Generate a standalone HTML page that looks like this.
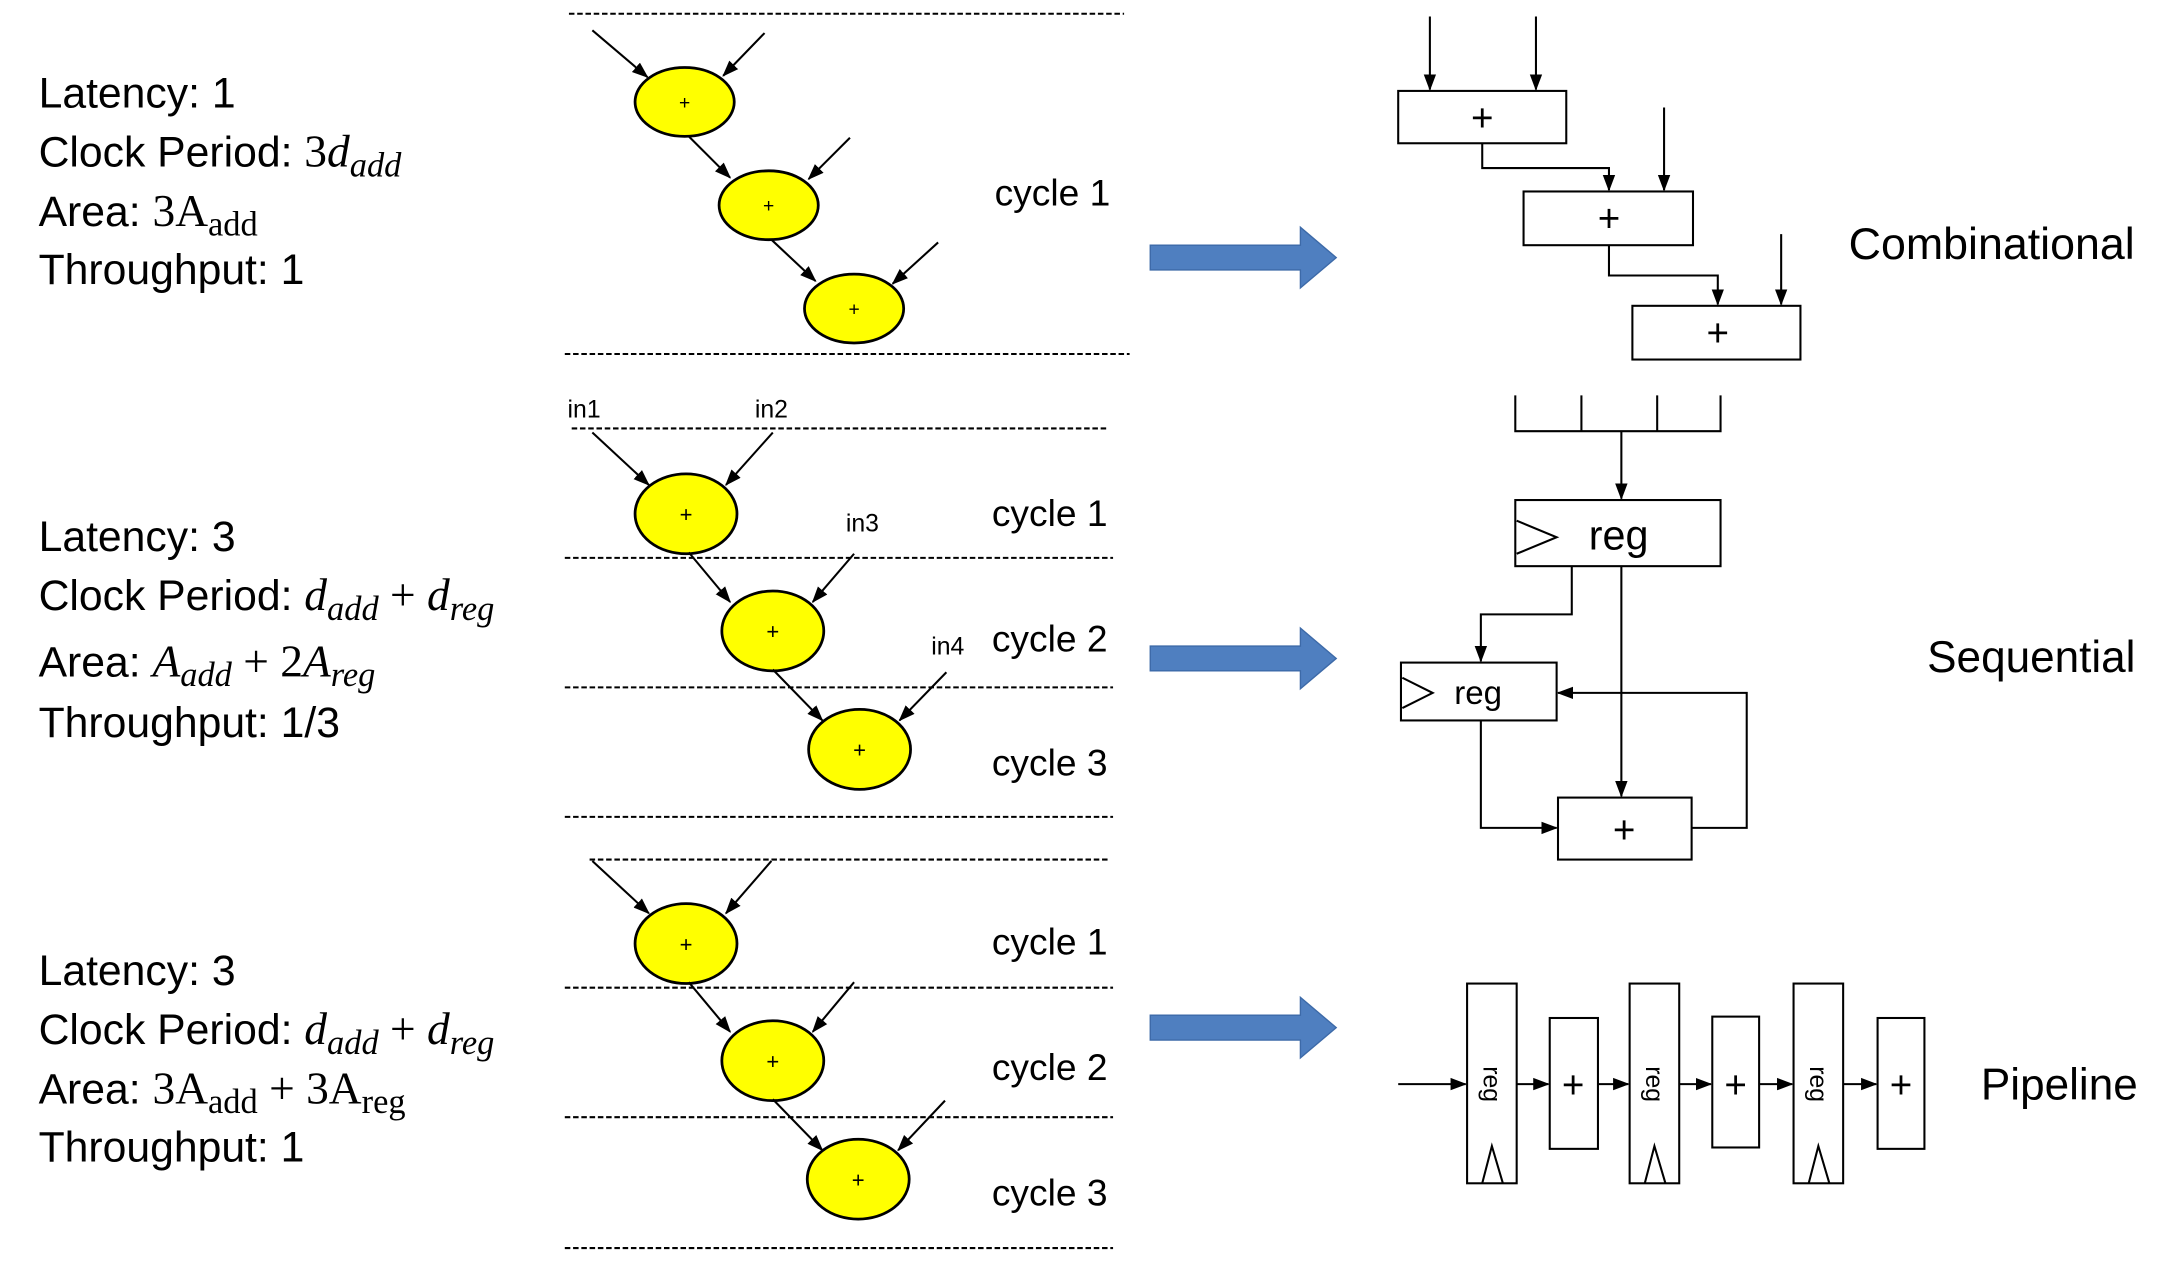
<!DOCTYPE html>
<html><head><meta charset="utf-8"><style>html,body{margin:0;padding:0;background:#fff}svg{display:block}</style></head>
<body>
<svg width="2160" height="1276" viewBox="0 0 1568 926.3" xmlns="http://www.w3.org/2000/svg">
<defs>
<marker id="a" markerWidth="12" markerHeight="12" refX="11" refY="6" orient="auto" markerUnits="userSpaceOnUse"><path d="M0,1.5 L12,6 L0,10.5 z" fill="#000"/></marker>
</defs>
<g font-family="Liberation Sans, sans-serif" fill="#000">
<!-- left text -->
<g font-size="31">
<text x="28" y="78">Latency: 1</text>
<text x="28" y="121">Clock Period: <tspan font-family="Liberation Serif" font-size="33">3<tspan font-style="italic">d</tspan><tspan font-style="italic" font-size="25" dy="7">add</tspan></tspan></text>
<text x="28" y="164">Area: <tspan font-family="Liberation Serif" font-size="33">3A<tspan font-size="25" dy="7">add</tspan></tspan></text>
<text x="28" y="206">Throughput: 1</text>

<text x="28" y="400">Latency: 3</text>
<text x="28" y="443">Clock Period: <tspan font-family="Liberation Serif" font-style="italic" font-size="33">d<tspan font-size="25" dy="7">add</tspan><tspan dy="-7" font-style="normal"> + </tspan>d<tspan font-size="25" dy="7">reg</tspan></tspan></text>
<text x="28" y="491">Area: <tspan font-family="Liberation Serif" font-style="italic" font-size="33">A<tspan font-size="25" dy="7">add</tspan><tspan dy="-7" font-style="normal"> + 2</tspan>A<tspan font-size="25" dy="7">reg</tspan></tspan></text>
<text x="28" y="535">Throughput: 1/3</text>

<text x="28" y="715">Latency: 3</text>
<text x="28" y="758">Clock Period: <tspan font-family="Liberation Serif" font-style="italic" font-size="33">d<tspan font-size="25" dy="7">add</tspan><tspan dy="-7" font-style="normal"> + </tspan>d<tspan font-size="25" dy="7">reg</tspan></tspan></text>
<text x="28" y="801">Area: <tspan font-family="Liberation Serif" font-size="33">3A<tspan font-size="25" dy="7">add</tspan><tspan dy="-7"> + 3A</tspan><tspan font-size="25" dy="7">reg</tspan></tspan></text>
<text x="28" y="843">Throughput: 1</text>
</g>

<!-- dashed lines -->
<g stroke="#000" stroke-width="1.5" stroke-dasharray="4,2">
<line x1="413" y1="10" x2="816" y2="10"/><line x1="410" y1="257" x2="820" y2="257"/>
<line x1="415" y1="311" x2="805" y2="311"/><line x1="410" y1="405" x2="808" y2="405"/>
<line x1="410" y1="499" x2="808" y2="499"/><line x1="410" y1="593" x2="808" y2="593"/>
<line x1="428" y1="624" x2="805" y2="624"/><line x1="410" y1="717" x2="808" y2="717"/>
<line x1="410" y1="811" x2="808" y2="811"/><line x1="410" y1="906" x2="808" y2="906"/>
</g>

<!-- ellipses -->
<g fill="#ffff00" stroke="#000" stroke-width="2">
<ellipse cx="497" cy="74" rx="36" ry="25"/><ellipse cx="558" cy="149" rx="36" ry="25"/><ellipse cx="620" cy="224" rx="36" ry="25"/>
<ellipse cx="498" cy="373" rx="37" ry="29"/><ellipse cx="561" cy="458" rx="37" ry="29"/><ellipse cx="624" cy="544" rx="37" ry="29"/>
<ellipse cx="498" cy="685" rx="37" ry="29"/><ellipse cx="561" cy="770" rx="37" ry="29"/><ellipse cx="623" cy="856" rx="37" ry="29"/>
</g>
<g font-size="14" text-anchor="middle">
<text x="497" y="79">+</text><text x="558" y="154">+</text><text x="620" y="229">+</text>
<text x="498" y="379" font-size="16">+</text><text x="561" y="464" font-size="16">+</text><text x="624" y="550" font-size="16">+</text>
<text x="498" y="691" font-size="16">+</text><text x="561" y="776" font-size="16">+</text><text x="623" y="862" font-size="16">+</text>
</g>
<g stroke="#000" stroke-width="1.5" marker-end="url(#a)">
<line x1="430" y1="22" x2="470" y2="56"/><line x1="555" y1="24" x2="525" y2="55"/>
<line x1="500" y1="99" x2="530" y2="129"/><line x1="617" y1="100" x2="587" y2="130"/>
<line x1="560" y1="174" x2="592" y2="204"/><line x1="681" y1="176" x2="648" y2="206"/>

<line x1="430" y1="314" x2="471" y2="352"/><line x1="561" y1="314" x2="527" y2="352"/>
<line x1="500" y1="401" x2="530" y2="437"/><line x1="620" y1="402" x2="590" y2="437"/>
<line x1="561" y1="486" x2="597" y2="523"/><line x1="687" y1="488" x2="653" y2="523"/>

<line x1="430" y1="625" x2="471" y2="663"/><line x1="560" y1="625" x2="527" y2="663"/>
<line x1="500" y1="713" x2="530" y2="749"/><line x1="620" y1="713" x2="590" y2="749"/>
<line x1="561" y1="798" x2="597" y2="835"/><line x1="686" y1="799" x2="652" y2="835"/>
</g>
<g font-size="18"><text x="412" y="303">in1</text><text x="548" y="303">in2</text><text x="614" y="386">in3</text><text x="676" y="475">in4</text></g>
<g font-size="27">
<text x="722" y="149">cycle 1</text>
<text x="720" y="382">cycle 1</text><text x="720" y="473">cycle 2</text><text x="720" y="563">cycle 3</text>
<text x="720" y="693">cycle 1</text><text x="720" y="784">cycle 2</text><text x="720" y="875">cycle 3</text>
</g>

<!-- blue arrows -->
<g fill="#4f7fc0" stroke="#3d6aa8" stroke-width="1">
<path d="M835,178 H944 V165 L970,187 L944,209 V196 H835 Z"/>
<path d="M835,469 H944 V456 L970,478 L944,500 V487 H835 Z"/>
<path d="M835,737 H944 V724 L970,746 L944,768 V755 H835 Z"/>
</g>

<!-- combinational -->
<g fill="none" stroke="#000" stroke-width="1.5">
<rect x="1015" y="66" width="122" height="38"/><rect x="1106" y="139" width="123" height="39"/><rect x="1185" y="222" width="122" height="39"/>
<g marker-end="url(#a)">
<line x1="1038" y1="12" x2="1038" y2="65"/><line x1="1115" y1="12" x2="1115" y2="65"/>
<path d="M1076,104 V122 H1168 V138"/><line x1="1208" y1="78" x2="1208" y2="138"/>
<path d="M1168,178 V200 H1247 V221"/><line x1="1293" y1="170" x2="1293" y2="221"/>
</g>
</g>
<g font-size="28" text-anchor="middle"><text x="1076" y="95">+</text><text x="1168" y="168">+</text><text x="1247" y="251">+</text></g>
<text x="1342" y="188" font-size="32.5">Combinational</text>

<!-- sequential -->
<g fill="none" stroke="#000" stroke-width="1.5">
<path d="M1100,287 V313 H1249 V287 M1148,287 V313 M1203,287 V313"/>
<rect x="1100" y="363" width="149" height="48"/><path d="M1101,378 L1130,390 L1101,402"/>
<rect x="1017" y="481" width="113" height="42"/><path d="M1018,492 L1040,503 L1018,514"/>
<rect x="1131" y="579" width="97" height="45"/>
<g marker-end="url(#a)">
<line x1="1177" y1="313" x2="1177" y2="362"/>
<path d="M1141,411 V446 H1075 V480"/>
<line x1="1177" y1="411" x2="1177" y2="578"/>
<path d="M1075,523 V601 H1130"/>
<path d="M1228,601 H1268 V503 H1131"/>
</g>
</g>
<text x="1175" y="399" font-size="30" text-anchor="middle">reg</text>
<text x="1073" y="511" font-size="24" text-anchor="middle">reg</text>
<text x="1179" y="612" font-size="28" text-anchor="middle">+</text>
<text x="1399" y="488" font-size="32">Sequential</text>

<!-- pipeline -->
<g fill="none" stroke="#000" stroke-width="1.5">
<rect x="1065" y="714" width="36" height="145"/><rect x="1183" y="714" width="36" height="145"/><rect x="1302" y="714" width="36" height="145"/>
<rect x="1125" y="739" width="35" height="95"/><rect x="1243" y="738" width="34" height="95"/><rect x="1363" y="739" width="34" height="95"/>
<path d="M1076,859 L1083,832 L1091,859 M1194,859 L1201,832 L1209,859 M1313,859 L1320,832 L1328,859"/>
<g marker-end="url(#a)">
<line x1="1015" y1="787" x2="1064" y2="787"/><line x1="1101" y1="787" x2="1124" y2="787"/>
<line x1="1160" y1="787" x2="1182" y2="787"/><line x1="1219" y1="787" x2="1242" y2="787"/>
<line x1="1277" y1="787" x2="1301" y2="787"/><line x1="1338" y1="787" x2="1362" y2="787"/>
</g>
</g>
<g font-size="18" text-anchor="middle">
<text transform="translate(1077,787) rotate(90)">reg</text>
<text transform="translate(1195,787) rotate(90)">reg</text>
<text transform="translate(1314,787) rotate(90)">reg</text>
</g>
<g font-size="28" text-anchor="middle"><text x="1142" y="797">+</text><text x="1260" y="797">+</text><text x="1380" y="797">+</text></g>
<text x="1438" y="798" font-size="32">Pipeline</text>
</g>
</svg>
</body></html>
